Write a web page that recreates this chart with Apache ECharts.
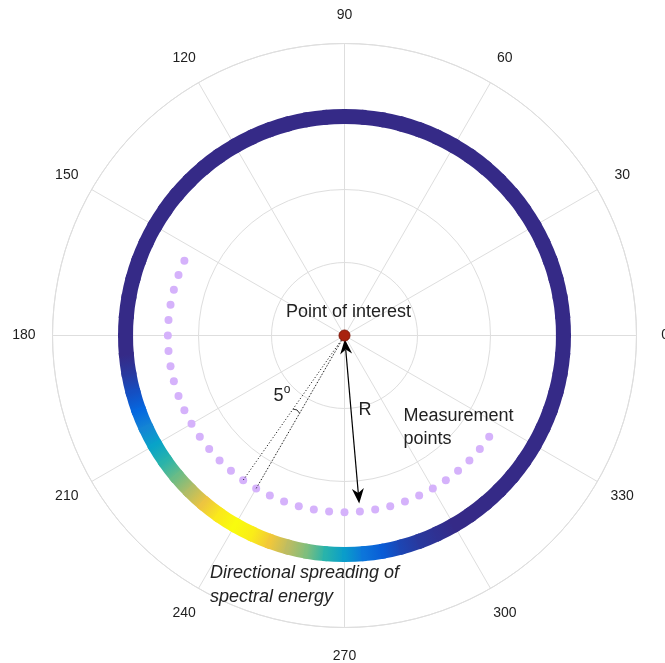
<!DOCTYPE html>
<html>
<head>
<meta charset="utf-8">
<script src="https://cdn.jsdelivr.net/npm/echarts@6/dist/echarts.min.js"></script>
<style>
  html, body { margin: 0; padding: 0; background: #ffffff; }
  #chart { width: 665px; height: 663px; }
</style>
</head>
<body>
<div id="chart"></div>
<script>
// Angle axis ticks and their labels (degrees, counter-clockwise from east)
const ANGLE_TICKS = [0, 30, 60, 90, 120, 150, 180, 210, 240, 270, 300, 330];
const ANGLE_TICK_LABELS = ['0', '30', '60', '90', '120', '150', '180', '210', '240', '270', '300', '330'];
const LABEL_RADIUS = 4.393;

// Spectral energy ring: one value per 5-degree direction bin (normalised 0..1)
const RING_ANGLES = [
  0, 5, 10, 15, 20, 25, 30, 35, 40, 45, 50, 55,
  60, 65, 70, 75, 80, 85, 90, 95, 100, 105, 110, 115,
  120, 125, 130, 135, 140, 145, 150, 155, 160, 165, 170, 175,
  180, 185, 190, 195, 200, 205, 210, 215, 220, 225, 230, 235,
  240, 245, 250, 255, 260, 265, 270, 275, 280, 285, 290, 295,
  300, 305, 310, 315, 320, 325, 330, 335, 340, 345, 350, 355
];
const SPREADING = [
  0, 0, 0, 0, 0, 0, 0, 0, 0, 0, 0, 0,
  0, 0, 0, 0, 0, 0, 0, 0, 0, 0, 0, 0,
  0, 0, 0, 0, 0, 0, 0, 0, 0, 0, 0, 0,
  0, 0, 0.03, 0.08, 0.14, 0.25, 0.36, 0.46, 0.57, 0.68, 0.82, 0.95,
  1.0, 0.96, 0.84, 0.70, 0.60, 0.46, 0.34, 0.19, 0.11, 0.06, 0.03, 0.015,
  0, 0, 0, 0, 0, 0, 0, 0, 0, 0, 0, 0
];
const RING_RADIUS = 3;

// Measurement points around the point of interest
const POINT_ANGLES = [
  155, 160, 165, 170, 175, 180, 185, 190, 195, 200, 205, 210,
  215, 220, 225, 230, 235, 240, 245, 250, 255, 260, 265, 270,
  275, 280, 285, 290, 295, 300, 305, 310, 315, 320, 325
];
const POINT_RADIUS = 2.42;

// Two rays marking the 5-degree spacing, and the small angle arc between them
const RAY_ANGLES = [235, 240];
const RAY_START = 0.08;
const ANGLE_ARC_ANGLES = [235, 237.5, 240];
const ANGLE_ARC_RADII = [1.23, 1.21, 1.23];

// Double-headed arrow showing the radius R
const ARROW_ANGLE = 275;
const ARROW_FROM = 0.05;
const ARROW_TO = 2.31;

// Colour ramp for the ring
const PARULA = ['#352a87', '#0363e1', '#1485d4', '#06a7c6', '#38b99e', '#92bf73', '#d9ba56', '#fcce2e', '#f9fb0e'];

const FONT = "'Liberation Sans', Arial, Helvetica, sans-serif";
const GRID = '#dedede';
const INK = '#222222';

const chart = echarts.init(document.getElementById('chart'), null, { renderer: 'canvas' });

function renderRing(params, api) {
  const i = params.dataIndex;
  const a0 = api.value(1);
  const a1 = a0 + 5;
  const cs = params.coordSys;
  const cx = cs.cx, cy = cs.cy;
  const p0 = api.coord([RING_RADIUS, a0]);
  const p1 = api.coord([RING_RADIUS, a1]);
  const rMid = Math.hypot(p0[0] - cx, p0[1] - cy);
  const c0 = echarts.color.lerp(SPREADING[i], PARULA);
  const c1 = echarts.color.lerp(SPREADING[(i + 1) % SPREADING.length], PARULA);
  const pad = 0.6;
  const half = 7.5;
  return {
    type: 'sector',
    shape: {
      cx: cx, cy: cy,
      r0: rMid - half, r: rMid + half,
      startAngle: -(a1 + pad) * Math.PI / 180,
      endAngle: -(a0 - pad) * Math.PI / 180,
      clockwise: true
    },
    style: {
      fill: {
        type: 'linear', x: p0[0], y: p0[1], x2: p1[0], y2: p1[1], global: true,
        colorStops: [{ offset: 0, color: c0 }, { offset: 1, color: c1 }]
      }
    }
  };
}

function renderArrow(params, api) {
  const ang = api.value(1);
  const pA = api.coord([api.value(0), ang]);
  const pB = api.coord([api.value(2), ang]);
  const dx = pB[0] - pA[0], dy = pB[1] - pA[1];
  const len = Math.hypot(dx, dy);
  const ux = dx / len, uy = dy / len;
  const nx = -uy, ny = ux;
  const L = 15, W = 6, notch = 10.5;
  function head(tip, dirx, diry) {
    const bx = tip[0] - dirx * L, by = tip[1] - diry * L;
    return [
      [tip[0], tip[1]],
      [bx + nx * W, by + ny * W],
      [tip[0] - dirx * notch, tip[1] - diry * notch],
      [bx - nx * W, by - ny * W]
    ];
  }
  return {
    type: 'group',
    children: [
      {
        type: 'line',
        shape: { x1: pA[0] + ux * notch, y1: pA[1] + uy * notch, x2: pB[0] - ux * notch, y2: pB[1] - uy * notch },
        style: { stroke: '#000', lineWidth: 1.2 }
      },
      { type: 'polygon', shape: { points: head(pB, ux, uy) }, style: { fill: '#000' } },
      { type: 'polygon', shape: { points: head(pA, -ux, -uy) }, style: { fill: '#000' } }
    ]
  };
}

const raySeries = RAY_ANGLES.map(a => ({
  type: 'line',
  coordinateSystem: 'polar',
  data: [[RAY_START, a], [POINT_RADIUS, a]],
  symbol: 'none',
  silent: true,
  z: 4,
  lineStyle: { color: '#000', width: 1, type: [1, 2.2] }
}));

const option = {
  animation: false,
  backgroundColor: '#ffffff',
  polar: { center: [344.5, 335.5], radius: 292 },
  angleAxis: {
    type: 'value', min: 0, max: 360, interval: 30,
    startAngle: 0, clockwise: false,
    axisLine: { show: true, lineStyle: { color: GRID, width: 1 } },
    axisTick: { show: false },
    splitLine: { show: true, lineStyle: { color: GRID, width: 1 } },
    axisLabel: { show: false }
  },
  radiusAxis: {
    type: 'value', min: 0, max: 4, interval: 1,
    axisLine: { show: false }, axisTick: { show: false }, axisLabel: { show: false },
    splitLine: { show: true, lineStyle: { color: GRID, width: 1 } }
  },
  series: [
    {
      // angle tick labels, centred on a circle just outside the plot
      type: 'scatter',
      coordinateSystem: 'polar',
      data: ANGLE_TICKS.map((a, i) => ({ value: [LABEL_RADIUS, a], name: ANGLE_TICK_LABELS[i] })),
      symbol: 'circle',
      symbolSize: 1,
      itemStyle: { color: 'rgba(0,0,0,0)', opacity: 1 },
      clip: false,
      silent: true,
      label: {
        show: true, position: 'inside', formatter: '{b}',
        fontSize: 14, fontFamily: FONT, color: '#1e1e1e', opacity: 1
      },
      z: 1
    },
    {
      type: 'custom',
      coordinateSystem: 'polar',
      encode: { radius: 0, angle: 1 },
      data: RING_ANGLES.map(a => [RING_RADIUS, a]),
      renderItem: renderRing,
      silent: true,
      z: 2
    },
    {
      type: 'scatter',
      coordinateSystem: 'polar',
      data: POINT_ANGLES.map(a => [POINT_RADIUS, a]),
      symbolSize: 8,
      itemStyle: { color: '#d5b2fb', opacity: 1 },
      silent: true,
      z: 3
    },
    ...raySeries,
    {
      type: 'line',
      coordinateSystem: 'polar',
      data: ANGLE_ARC_ANGLES.map((a, i) => [ANGLE_ARC_RADII[i], a]),
      symbol: 'none',
      silent: true,
      z: 4,
      lineStyle: { color: '#333', width: 1 }
    },
    {
      type: 'custom',
      coordinateSystem: 'polar',
      encode: { radius: 0, angle: 1 },
      data: [[ARROW_FROM, ARROW_ANGLE, ARROW_TO]],
      renderItem: renderArrow,
      silent: true,
      z: 5
    },
    {
      type: 'scatter',
      coordinateSystem: 'polar',
      data: [[0, 0]],
      symbolSize: 11,
      itemStyle: { color: '#a8220f', borderColor: '#7e1608', borderWidth: 1, opacity: 1 },
      silent: true,
      z: 6
    }
  ],
  graphic: [
    {
      type: 'text', x: 348.5, y: 312.5, z: 10,
      style: { text: 'Point of interest', font: '18px ' + FONT, fill: INK, align: 'center', verticalAlign: 'middle' }
    },
    {
      type: 'text', x: 278.5, y: 396, z: 10,
      style: { text: '5', font: '18px ' + FONT, fill: INK, align: 'center', verticalAlign: 'middle' }
    },
    {
      type: 'text', x: 287, y: 389.5, z: 10,
      style: { text: 'o', font: '12px ' + FONT, fill: INK, align: 'center', verticalAlign: 'middle' }
    },
    {
      type: 'text', x: 365, y: 410, z: 10,
      style: { text: 'R', font: '18px ' + FONT, fill: INK, align: 'center', verticalAlign: 'middle' }
    },
    {
      type: 'text', x: 403.5, y: 403.8, z: 10,
      style: { text: 'Measurement\npoints', font: '18px ' + FONT, lineHeight: 23.5, fill: INK, align: 'left', verticalAlign: 'top' }
    },
    {
      type: 'text', x: 210, y: 561.3, z: 10,
      style: { text: 'Directional spreading of\nspectral energy', font: 'italic 18px ' + FONT, lineHeight: 23.7, fill: INK, align: 'left', verticalAlign: 'top' }
    }
  ]
};

chart.setOption(option);
</script>
</body>
</html>
